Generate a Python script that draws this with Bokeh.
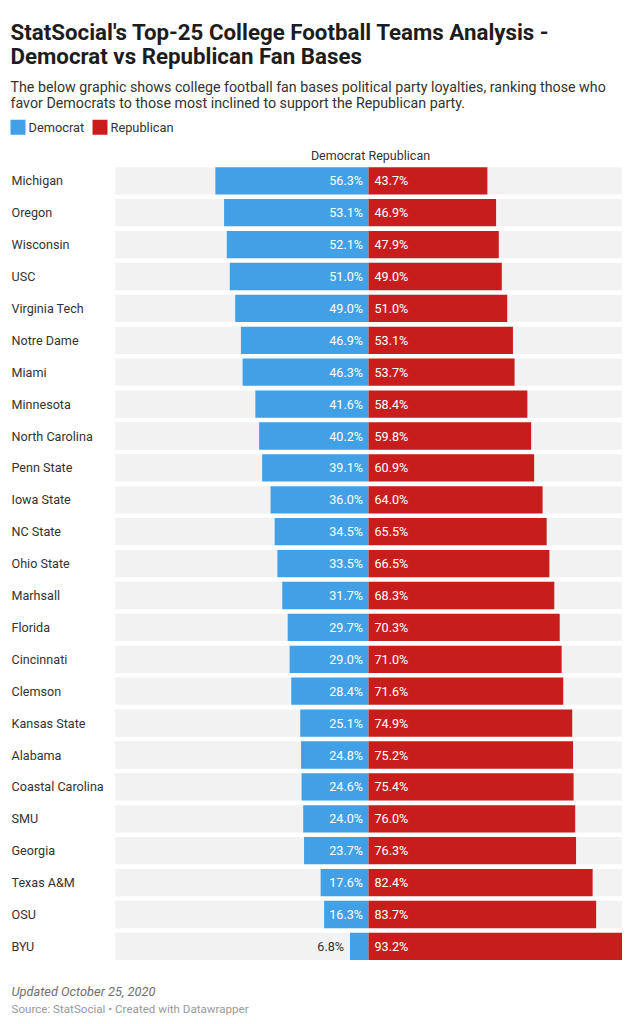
from bokeh.plotting import figure
from bokeh.models import Range1d, ColumnDataSource
from bokeh.core.properties import value
from bokeh.embed import file_html
from bokeh.resources import INLINE

teams = ["Michigan", "Oregon", "Wisconsin", "USC", "Virginia Tech", "Notre Dame", "Miami",
         "Minnesota", "North Carolina", "Penn State", "Iowa State", "NC State", "Ohio State",
         "Marhsall", "Florida", "Cincinnati", "Clemson", "Kansas State", "Alabama",
         "Coastal Carolina", "SMU", "Georgia", "Texas A&M", "OSU", "BYU"]
democrat = [56.3, 53.1, 52.1, 51.0, 49.0, 46.9, 46.3, 41.6, 40.2, 39.1, 36.0, 34.5, 33.5,
            31.7, 29.7, 29.0, 28.4, 25.1, 24.8, 24.6, 24.0, 23.7, 17.6, 16.3, 6.8]
republican = [43.7, 46.9, 47.9, 49.0, 51.0, 53.1, 53.7, 58.4, 59.8, 60.9, 64.0, 65.5, 66.5,
              68.3, 70.3, 71.0, 71.6, 74.9, 75.2, 75.4, 76.0, 76.3, 82.4, 83.7, 93.2]
series = ["Democrat", "Republican"]

TITLE1 = "StatSocial's Top-25 College Football Teams Analysis -"
TITLE2 = "Democrat vs Republican Fan Bases"
SUB1 = "The below graphic shows college football fan bases political party loyalties, ranking those who"
SUB2 = "favor Democrats to those most inclined to support the Republican party."
UPDATED = "Updated October 25, 2020"
SOURCE = "Source: StatSocial \u2022 Created with Datawrapper"

BLUE = "#42a1e6"
RED = "#c71e1d"
GRAY = "#f2f2f2"
DARK = "#333333"
FONT = value("Roboto")

W, H = 630, 1016
ZERO_PX = 368.0
SCALE = 2.72  # px per percent
x0 = -ZERO_PX / SCALE
x1 = (W - ZERO_PX) / SCALE


def px(xp):
    return x0 + xp / SCALE


ROW0 = 180.3
PITCH = 31.9
BAR_H = 27.3

p = figure(width=W, height=H, output_backend="svg", toolbar_location=None,
           x_range=Range1d(x0, x1), y_range=Range1d(H, 0),
           min_border=0, min_border_left=0, min_border_right=0,
           min_border_top=0, min_border_bottom=0)
p.axis.visible = False
p.grid.visible = False
p.outline_line_color = None
p.background_fill_color = "white"
p.border_fill_color = "white"

n = len(teams)
ys = [ROW0 + i * PITCH for i in range(n)]
maxv = max(republican)

src = ColumnDataSource(dict(
    team=teams, y=ys,
    dneg=[-d for d in democrat], rep=republican,
    dlab=["%.1f%%" % d for d in democrat],
    rlab=["%.1f%%" % r for r in republican],
))

# background rows
p.hbar(y="y", left=-maxv, right=maxv, height=BAR_H, source=src, fill_color=GRAY, line_color=None)
p.hbar(y="y", left="dneg", right=0, height=BAR_H, source=src, fill_color=BLUE, line_color=None)
p.hbar(y="y", left=0, right="rep", height=BAR_H, source=src, fill_color=RED, line_color=None)

# row labels
p.text(x=px(11), y="y", text="team", source=src, text_font=FONT, text_font_size="12.6px",
       text_color=DARK, text_baseline="middle", text_align="left")

# democrat value labels: inside if room, else outside
inside = [d >= 12 for d in democrat]
src.data["dlx"] = [(-2.0 if ins else -d - 2.2) for d, ins in zip(democrat, inside)]
src.data["dlc"] = ["white" if ins else DARK for ins in inside]
p.text(x="dlx", y="y", text="dlab", source=src, text_font=FONT, text_font_size="12.6px",
       text_color="dlc", text_baseline="middle", text_align="right")
p.text(x=2.2, y="y", text="rlab", source=src, text_font=FONT, text_font_size="12.6px",
       text_color="white", text_baseline="middle", text_align="left")

# column header
p.text(x=[-1.2], y=[155], text=[series[0]], text_font=FONT, text_font_size="12.5px",
       text_color=DARK, text_baseline="middle", text_align="right")
p.text(x=[0], y=[155], text=[series[1]], text_font=FONT, text_font_size="12.5px",
       text_color=DARK, text_baseline="middle", text_align="left")

# title
p.text(x=[px(10)], y=[31], text=[TITLE1], text_font=FONT, text_font_size="22.3px",
       text_font_style="bold", text_color="#1d1d1d", text_baseline="alphabetic")
p.text(x=[px(10)], y=[55], text=[TITLE2], text_font=FONT, text_font_size="22.3px",
       text_font_style="bold", text_color="#1d1d1d", text_baseline="alphabetic")
# subtitle
p.text(x=[px(10)], y=[86], text=[SUB1], text_font=FONT, text_font_size="14.25px",
       text_color=DARK, text_baseline="alphabetic")
p.text(x=[px(10)], y=[102.5], text=[SUB2], text_font=FONT, text_font_size="14.25px",
       text_color=DARK, text_baseline="alphabetic")

# legend
p.rect(x=[px(17.5), px(99.5)], y=[126.8, 126.8], width=15 / SCALE, height=15,
       fill_color=[BLUE, RED], line_color=None)
p.text(x=[px(28), px(110)], y=[127, 127], text=series, text_font=FONT,
       text_font_size="12.8px", text_color=DARK, text_baseline="middle")

# footer
p.text(x=[px(11)], y=[991.2], text=[UPDATED], text_font=FONT, text_font_size="12.8px",
       text_font_style="italic", text_color="#707070", text_baseline="alphabetic")
p.text(x=[px(11)], y=[1008.8], text=[SOURCE], text_font=FONT, text_font_size="11.6px",
       text_color="#999999", text_baseline="alphabetic")

open("out.html", "w").write(file_html(p, INLINE))
